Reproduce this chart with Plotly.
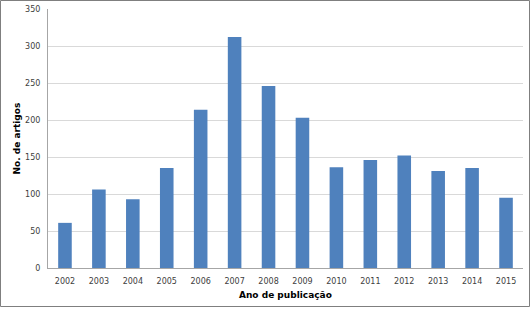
import plotly.graph_objects as go

years = ["2002", "2003", "2004", "2005", "2006", "2007", "2008", "2009",
         "2010", "2011", "2012", "2013", "2014", "2015"]
articles = [61, 106, 93, 135, 214, 312, 246, 203, 136, 146, 152, 131, 135, 95]
y_ticks = [0, 50, 100, 150, 200, 250, 300, 350]

W, H = 531, 309
ml, mr, mt, mb = 48, 8, 9, 41
pw, ph = W - ml - mr, H - mt - mb

fig = go.Figure(go.Bar(x=years, y=articles, marker=dict(color="#4F81BD", line=dict(width=0)),
                       width=0.4))

fig.update_layout(
    width=W, height=H,
    margin=dict(l=ml, r=mr, t=mt, b=mb, autoexpand=False),
    paper_bgcolor="white", plot_bgcolor="white",
    font=dict(family="DejaVu Sans", size=8, color="#404040"),
    showlegend=False,
    xaxis=dict(type="category", showgrid=False, showline=True, linecolor="#A6A6A6",
               linewidth=1, ticks="", tickfont=dict(size=8), automargin=False,
               ticklabelstandoff=5),
    yaxis=dict(range=[0, 350], tickvals=y_ticks, showgrid=True, gridcolor="#D9D9D9",
               gridwidth=1, showline=True, linecolor="#A6A6A6", linewidth=1, ticks="",
               zeroline=False, tickfont=dict(size=8), automargin=False,
               ticklabelstandoff=5),
    annotations=[
        dict(text="<b>Ano de publicação</b>", xref="paper", yref="paper",
             x=0.5, y=-(295 - (H - mb)) / ph, xanchor="center", yanchor="middle",
             showarrow=False, font=dict(size=9, color="#000000")),
        dict(text="<b>No. de artigos</b>", xref="paper", yref="paper",
             x=-(ml - 16) / pw, y=0.5, xanchor="center", yanchor="middle", textangle=-90,
             showarrow=False, font=dict(size=9, color="#000000")),
    ],
    shapes=[dict(type="rect", xref="paper", yref="paper",
                 x0=(0.5 - ml) / pw, x1=(W - 1.5 - ml) / pw,
                 y0=-(mb - 2.5) / ph,
                 y1=1 + (mt - 0.5) / ph,
                 line=dict(color="#7F7F7F", width=1), fillcolor="rgba(0,0,0,0)")],
)

fig.write_html("out.html", config={"displayModeBar": False},
               post_script="document.body.style.margin='0';document.body.style.overflow='hidden';")
